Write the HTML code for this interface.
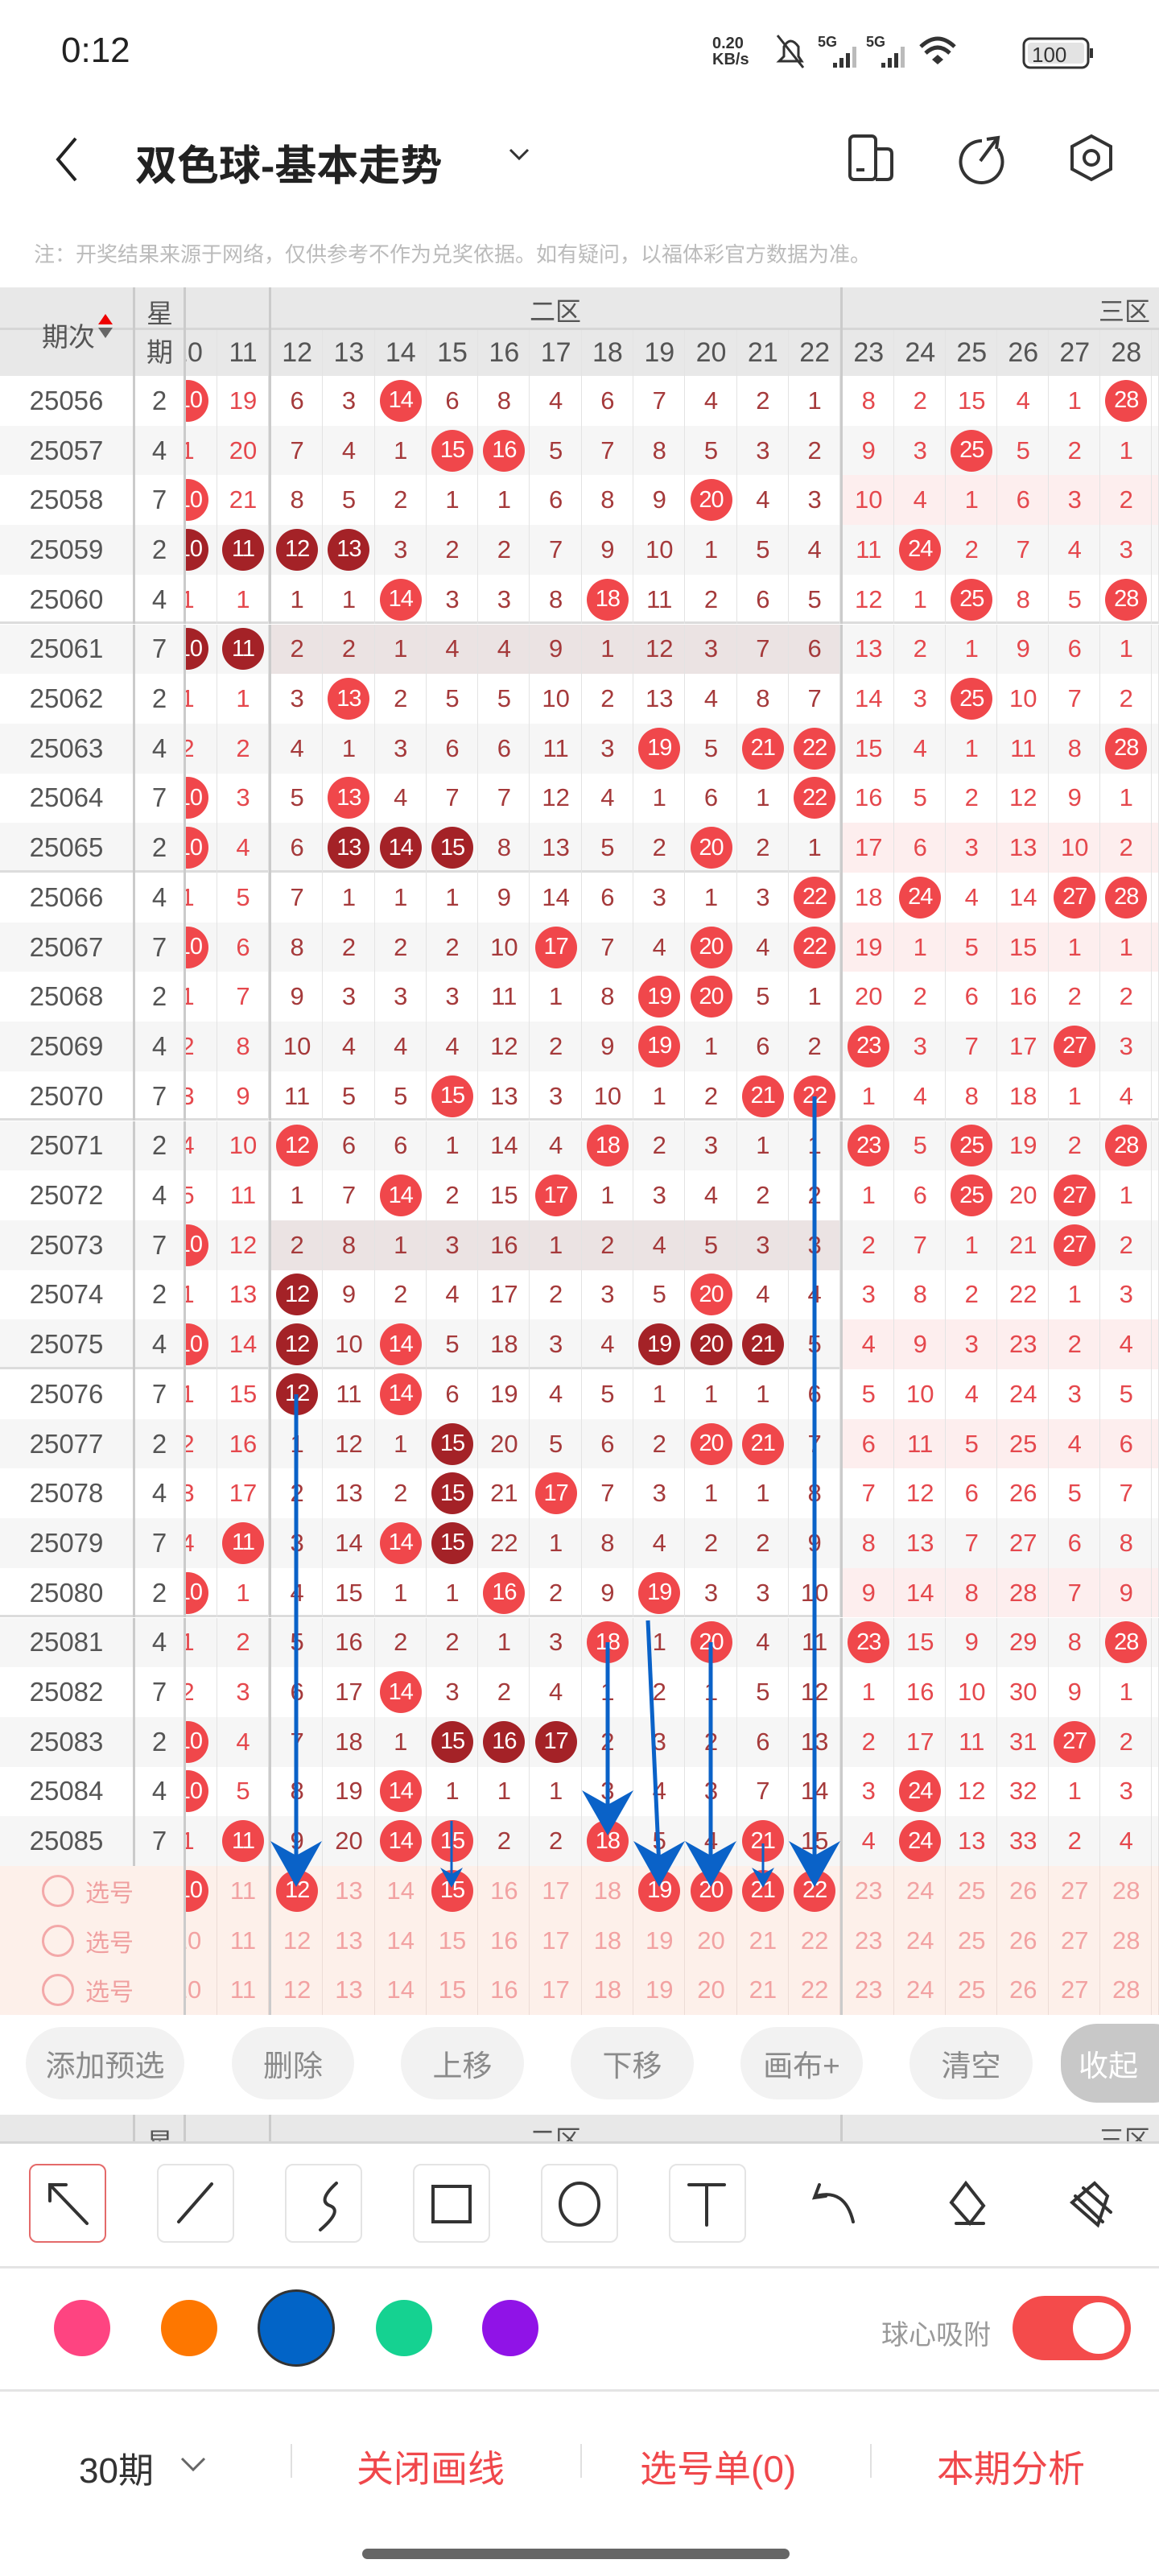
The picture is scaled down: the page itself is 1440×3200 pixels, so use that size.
<!DOCTYPE html>
<html><head><meta charset="utf-8"><style>
*{margin:0;padding:0;box-sizing:border-box}
body{width:1440px;height:3200px;background:#fff;font-family:"Liberation Sans","Noto Sans CJK SC",sans-serif;position:relative;overflow:hidden;color:#333}
.abs{position:absolute}
.r{position:absolute;left:0;width:1440px;height:61.7px;display:grid;grid-template-columns:165px 3px 60px 3px 39px 64px 3px repeat(11,64.3px) 3px repeat(6,64px) 1fr;font-size:31px;align-items:stretch}
.r>*{display:flex;align-items:center;justify-content:center;font-style:normal;text-decoration:none;overflow:hidden;white-space:nowrap}
.r>i{box-shadow:inset -1px 0 #e3e3e3}
.r>s{background:#cbcbcb}
.r>u{color:#555;font-size:33px}
.a{background:#fff}.b{background:#f6f6f6}
.r>i{color:#a53a3b}
.r>:nth-child(5),.r>:nth-child(6),.r>:nth-child(n+20){color:#e5484d}
.k>:nth-child(n+20){background:#fdeeee}
.g>:nth-child(n+8):nth-child(-n+18){background:#ebe3e3}
.e{box-shadow:inset 0 -3px #dcdcdc}
.r>i.p{justify-content:flex-start}
.p em{font-style:normal;display:flex;justify-content:center;align-items:center;min-width:64px;margin-left:-30px}
.p b{justify-content:flex-end;padding-right:8px}
b{display:inline-flex;width:52px;height:52px;border-radius:50%;background:#f0474b;color:#fff;font-weight:normal;align-items:center;justify-content:center;font-size:29px;letter-spacing:-1px}
b.d{background:#a42227}
.sel{background:#fdf0ea}
.sel>i{color:#f2a2a2 !important;box-shadow:inset -1px 0 #ecdcd6;background:#fdf0ea}
.sel>u.lab{grid-column:span 3;justify-content:flex-start;padding-left:52px;color:#f0a0a0;font-size:30px}
.circ{display:inline-block;width:40px;height:40px;border:3px solid #f3a8a8;border-radius:50%;margin-right:14px}
.pill{position:absolute;top:2518px;height:90px;border-radius:45px;background:#f2f2f2;color:#8a8a8a;font-size:37px;display:flex;align-items:center;justify-content:center}
.tb{position:absolute;top:2688px;width:96px;height:98px;border:2px solid #e4e4e4;border-radius:10px}
</style></head><body>

<div class="abs" style="left:76px;top:38px;font-size:44px;color:#222">0:12</div>
<div class="abs" style="left:885px;top:44px;font-size:20px;line-height:20px;font-weight:bold;color:#333">0.20<br>KB/s</div>
<svg class="abs" style="left:960px;top:36px" width="400" height="60" viewBox="0 0 400 60">
<path d="M8 40 L14 34 L14 22 Q22 8 32 22 L32 34 L36 40 Z" fill="none" stroke="#333" stroke-width="3"/><line x1="6" y1="8" x2="38" y2="48" stroke="#333" stroke-width="3"/>
<text x="56" y="22" font-size="18" font-weight="bold" fill="#333" font-family="Liberation Sans">5G</text>
<rect x="75" y="42" width="5" height="6" fill="#333"/><rect x="83" y="36" width="5" height="12" fill="#333"/><rect x="91" y="30" width="5" height="18" fill="#333"/><rect x="99" y="22" width="5" height="26" fill="#bbb"/>
<text x="116" y="22" font-size="18" font-weight="bold" fill="#333" font-family="Liberation Sans">5G</text>
<rect x="135" y="42" width="5" height="6" fill="#333"/><rect x="143" y="36" width="5" height="12" fill="#333"/><rect x="151" y="30" width="5" height="18" fill="#333"/><rect x="159" y="22" width="5" height="26" fill="#bbb"/>
<path d="M184 22 Q205 2 226 22" fill="none" stroke="#333" stroke-width="5"/><path d="M190 30 Q205 16 220 30" fill="none" stroke="#333" stroke-width="5"/><path d="M198 38 L205 32 L212 38 L205 44 Z" fill="#333"/>
<rect x="312" y="12" width="80" height="36" rx="8" fill="none" stroke="#333" stroke-width="3"/><rect x="317" y="17" width="70" height="26" rx="4" fill="#e3e3e3"/>
<text x="322" y="41" font-size="26" fill="#333" font-family="Liberation Sans">100</text><rect x="394" y="24" width="4" height="12" fill="#333"/>
</svg>

<svg class="abs" style="left:64px;top:168px" width="40" height="60"><polyline points="30,4 8,30 30,56" fill="none" stroke="#222" stroke-width="4"/></svg>
<div class="abs" style="left:168px;top:164px;font-size:52px;font-weight:bold;color:#222">双色球-基本走势</div>
<svg class="abs" style="left:630px;top:182px" width="30" height="20"><polyline points="4,4 15,15 26,4" fill="none" stroke="#333" stroke-width="3"/></svg>
<svg class="abs" style="left:1050px;top:165px" width="340" height="64">
<rect x="6" y="4" width="32" height="54" rx="5" fill="none" stroke="#333" stroke-width="4"/><path d="M38 20 H52 Q58 20 58 26 V52 Q58 58 52 58 H38" fill="none" stroke="#333" stroke-width="4"/><line x1="14" y1="46" x2="24" y2="46" stroke="#333" stroke-width="4"/>
<path d="M170 10 A26 26 0 1 0 190 20" fill="none" stroke="#333" stroke-width="4"/><line x1="168" y1="35" x2="188" y2="8" stroke="#333" stroke-width="4"/><polyline points="176,8 190,6 188,20" fill="none" stroke="#333" stroke-width="4"/>
<polygon points="306,4 330,17 330,45 306,58 282,45 282,17" fill="none" stroke="#333" stroke-width="4"/><circle cx="306" cy="31" r="9" fill="none" stroke="#333" stroke-width="4"/>
</svg>
<div class="abs" style="left:42px;top:296px;font-size:26px;color:#bbb">注：开奖结果来源于网络，仅供参考不作为兑奖依据。如有疑问，以福体彩官方数据为准。</div>

<div class="abs" style="left:0;top:357px;width:1440px;height:110px;background:#e8e8e8"></div>
<div class="abs" style="left:0;top:357px;width:1440px;height:53px;box-shadow:inset 0 -3px #d6d6d6"></div>
<div class="abs" style="left:52px;top:392px;font-size:33px;color:#555">期次</div>
<div class="abs" style="left:122px;top:390px;width:0;height:0;border-left:9px solid transparent;border-right:9px solid transparent;border-bottom:13px solid #e00"></div>
<div class="abs" style="left:122px;top:407px;width:0;height:0;border-left:9px solid transparent;border-right:9px solid transparent;border-top:13px solid #666"></div>
<div class="abs" style="left:165px;top:357px;width:3px;height:110px;background:#cbcbcb"></div>
<div class="abs" style="left:182px;top:366px;font-size:33px;color:#555;line-height:48px">星<br>期</div>
<div class="abs" style="left:228px;top:357px;width:3px;height:110px;background:#cbcbcb"></div>
<div class="abs" style="left:334px;top:357px;width:3px;height:110px;background:#cbcbcb"></div>
<div class="abs" style="left:1044px;top:357px;width:3px;height:110px;background:#cbcbcb"></div>
<div class="abs" style="left:658px;top:362px;font-size:32px;color:#555">二区</div>
<div class="abs" style="left:1365px;top:362px;font-size:32px;color:#555">三区</div>
<div class="r" style="top:410px;height:57px;background:transparent;font-size:34px">
<u></u><u></u><u></u><u></u><i class="p" style="color:#555"><em>10</em></i><i style="color:#555">11</i><s></s>
<i style="color:#555">12</i><i style="color:#555">13</i><i style="color:#555">14</i><i style="color:#555">15</i><i style="color:#555">16</i><i style="color:#555">17</i><i style="color:#555">18</i><i style="color:#555">19</i><i style="color:#555">20</i><i style="color:#555">21</i><i style="color:#555">22</i><s></s>
<i style="color:#555">23</i><i style="color:#555">24</i><i style="color:#555">25</i><i style="color:#555">26</i><i style="color:#555">27</i><i style="color:#555">28</i><i></i></div>

<div class="r a" style="top:467px"><u>25056</u><s></s><u>2</u><s></s><i class="p"><em><b>10</b></em></i><i>19</i><s></s><i>6</i><i>3</i><i><b>14</b></i><i>6</i><i>8</i><i>4</i><i>6</i><i>7</i><i>4</i><i>2</i><i>1</i><s></s><i>8</i><i>2</i><i>15</i><i>4</i><i>1</i><i><b>28</b></i><i></i></div>
<div class="r b" style="top:528.7px"><u>25057</u><s></s><u>4</u><s></s><i class="p"><em>1</em></i><i>20</i><s></s><i>7</i><i>4</i><i>1</i><i><b>15</b></i><i><b>16</b></i><i>5</i><i>7</i><i>8</i><i>5</i><i>3</i><i>2</i><s></s><i>9</i><i>3</i><i><b>25</b></i><i>5</i><i>2</i><i>1</i><i></i></div>
<div class="r a k" style="top:590.4px"><u>25058</u><s></s><u>7</u><s></s><i class="p"><em><b>10</b></em></i><i>21</i><s></s><i>8</i><i>5</i><i>2</i><i>1</i><i>1</i><i>6</i><i>8</i><i>9</i><i><b>20</b></i><i>4</i><i>3</i><s></s><i>10</i><i>4</i><i>1</i><i>6</i><i>3</i><i>2</i><i></i></div>
<div class="r b" style="top:652.1px"><u>25059</u><s></s><u>2</u><s></s><i class="p"><em><b class="d">10</b></em></i><i><b class="d">11</b></i><s></s><i><b class="d">12</b></i><i><b class="d">13</b></i><i>3</i><i>2</i><i>2</i><i>7</i><i>9</i><i>10</i><i>1</i><i>5</i><i>4</i><s></s><i>11</i><i><b>24</b></i><i>2</i><i>7</i><i>4</i><i>3</i><i></i></div>
<div class="r a e" style="top:713.8px"><u>25060</u><s></s><u>4</u><s></s><i class="p"><em>1</em></i><i>1</i><s></s><i>1</i><i>1</i><i><b>14</b></i><i>3</i><i>3</i><i>8</i><i><b>18</b></i><i>11</i><i>2</i><i>6</i><i>5</i><s></s><i>12</i><i>1</i><i><b>25</b></i><i>8</i><i>5</i><i><b>28</b></i><i></i></div>
<div class="r b g" style="top:775.5px"><u>25061</u><s></s><u>7</u><s></s><i class="p"><em><b class="d">10</b></em></i><i><b class="d">11</b></i><s></s><i>2</i><i>2</i><i>1</i><i>4</i><i>4</i><i>9</i><i>1</i><i>12</i><i>3</i><i>7</i><i>6</i><s></s><i>13</i><i>2</i><i>1</i><i>9</i><i>6</i><i>1</i><i></i></div>
<div class="r a" style="top:837.2px"><u>25062</u><s></s><u>2</u><s></s><i class="p"><em>1</em></i><i>1</i><s></s><i>3</i><i><b>13</b></i><i>2</i><i>5</i><i>5</i><i>10</i><i>2</i><i>13</i><i>4</i><i>8</i><i>7</i><s></s><i>14</i><i>3</i><i><b>25</b></i><i>10</i><i>7</i><i>2</i><i></i></div>
<div class="r b" style="top:898.9px"><u>25063</u><s></s><u>4</u><s></s><i class="p"><em>2</em></i><i>2</i><s></s><i>4</i><i>1</i><i>3</i><i>6</i><i>6</i><i>11</i><i>3</i><i><b>19</b></i><i>5</i><i><b>21</b></i><i><b>22</b></i><s></s><i>15</i><i>4</i><i>1</i><i>11</i><i>8</i><i><b>28</b></i><i></i></div>
<div class="r a" style="top:960.6px"><u>25064</u><s></s><u>7</u><s></s><i class="p"><em><b>10</b></em></i><i>3</i><s></s><i>5</i><i><b>13</b></i><i>4</i><i>7</i><i>7</i><i>12</i><i>4</i><i>1</i><i>6</i><i>1</i><i><b>22</b></i><s></s><i>16</i><i>5</i><i>2</i><i>12</i><i>9</i><i>1</i><i></i></div>
<div class="r b k e" style="top:1022.3px"><u>25065</u><s></s><u>2</u><s></s><i class="p"><em><b>10</b></em></i><i>4</i><s></s><i>6</i><i><b class="d">13</b></i><i><b class="d">14</b></i><i><b class="d">15</b></i><i>8</i><i>13</i><i>5</i><i>2</i><i><b>20</b></i><i>2</i><i>1</i><s></s><i>17</i><i>6</i><i>3</i><i>13</i><i>10</i><i>2</i><i></i></div>
<div class="r a" style="top:1084px"><u>25066</u><s></s><u>4</u><s></s><i class="p"><em>1</em></i><i>5</i><s></s><i>7</i><i>1</i><i>1</i><i>1</i><i>9</i><i>14</i><i>6</i><i>3</i><i>1</i><i>3</i><i><b>22</b></i><s></s><i>18</i><i><b>24</b></i><i>4</i><i>14</i><i><b>27</b></i><i><b>28</b></i><i></i></div>
<div class="r b k" style="top:1145.7px"><u>25067</u><s></s><u>7</u><s></s><i class="p"><em><b>10</b></em></i><i>6</i><s></s><i>8</i><i>2</i><i>2</i><i>2</i><i>10</i><i><b>17</b></i><i>7</i><i>4</i><i><b>20</b></i><i>4</i><i><b>22</b></i><s></s><i>19</i><i>1</i><i>5</i><i>15</i><i>1</i><i>1</i><i></i></div>
<div class="r a" style="top:1207.4px"><u>25068</u><s></s><u>2</u><s></s><i class="p"><em>1</em></i><i>7</i><s></s><i>9</i><i>3</i><i>3</i><i>3</i><i>11</i><i>1</i><i>8</i><i><b>19</b></i><i><b>20</b></i><i>5</i><i>1</i><s></s><i>20</i><i>2</i><i>6</i><i>16</i><i>2</i><i>2</i><i></i></div>
<div class="r b" style="top:1269.1px"><u>25069</u><s></s><u>4</u><s></s><i class="p"><em>2</em></i><i>8</i><s></s><i>10</i><i>4</i><i>4</i><i>4</i><i>12</i><i>2</i><i>9</i><i><b>19</b></i><i>1</i><i>6</i><i>2</i><s></s><i><b>23</b></i><i>3</i><i>7</i><i>17</i><i><b>27</b></i><i>3</i><i></i></div>
<div class="r a e" style="top:1330.8px"><u>25070</u><s></s><u>7</u><s></s><i class="p"><em>3</em></i><i>9</i><s></s><i>11</i><i>5</i><i>5</i><i><b>15</b></i><i>13</i><i>3</i><i>10</i><i>1</i><i>2</i><i><b>21</b></i><i><b>22</b></i><s></s><i>1</i><i>4</i><i>8</i><i>18</i><i>1</i><i>4</i><i></i></div>
<div class="r b" style="top:1392.5px"><u>25071</u><s></s><u>2</u><s></s><i class="p"><em>4</em></i><i>10</i><s></s><i><b>12</b></i><i>6</i><i>6</i><i>1</i><i>14</i><i>4</i><i><b>18</b></i><i>2</i><i>3</i><i>1</i><i>1</i><s></s><i><b>23</b></i><i>5</i><i><b>25</b></i><i>19</i><i>2</i><i><b>28</b></i><i></i></div>
<div class="r a" style="top:1454.2px"><u>25072</u><s></s><u>4</u><s></s><i class="p"><em>5</em></i><i>11</i><s></s><i>1</i><i>7</i><i><b>14</b></i><i>2</i><i>15</i><i><b>17</b></i><i>1</i><i>3</i><i>4</i><i>2</i><i>2</i><s></s><i>1</i><i>6</i><i><b>25</b></i><i>20</i><i><b>27</b></i><i>1</i><i></i></div>
<div class="r b g" style="top:1515.9px"><u>25073</u><s></s><u>7</u><s></s><i class="p"><em><b>10</b></em></i><i>12</i><s></s><i>2</i><i>8</i><i>1</i><i>3</i><i>16</i><i>1</i><i>2</i><i>4</i><i>5</i><i>3</i><i>3</i><s></s><i>2</i><i>7</i><i>1</i><i>21</i><i><b>27</b></i><i>2</i><i></i></div>
<div class="r a" style="top:1577.6px"><u>25074</u><s></s><u>2</u><s></s><i class="p"><em>1</em></i><i>13</i><s></s><i><b class="d">12</b></i><i>9</i><i>2</i><i>4</i><i>17</i><i>2</i><i>3</i><i>5</i><i><b>20</b></i><i>4</i><i>4</i><s></s><i>3</i><i>8</i><i>2</i><i>22</i><i>1</i><i>3</i><i></i></div>
<div class="r b k e" style="top:1639.3px"><u>25075</u><s></s><u>4</u><s></s><i class="p"><em><b>10</b></em></i><i>14</i><s></s><i><b class="d">12</b></i><i>10</i><i><b>14</b></i><i>5</i><i>18</i><i>3</i><i>4</i><i><b class="d">19</b></i><i><b class="d">20</b></i><i><b class="d">21</b></i><i>5</i><s></s><i>4</i><i>9</i><i>3</i><i>23</i><i>2</i><i>4</i><i></i></div>
<div class="r a" style="top:1701px"><u>25076</u><s></s><u>7</u><s></s><i class="p"><em>1</em></i><i>15</i><s></s><i><b class="d">12</b></i><i>11</i><i><b>14</b></i><i>6</i><i>19</i><i>4</i><i>5</i><i>1</i><i>1</i><i>1</i><i>6</i><s></s><i>5</i><i>10</i><i>4</i><i>24</i><i>3</i><i>5</i><i></i></div>
<div class="r b k" style="top:1762.7px"><u>25077</u><s></s><u>2</u><s></s><i class="p"><em>2</em></i><i>16</i><s></s><i>1</i><i>12</i><i>1</i><i><b class="d">15</b></i><i>20</i><i>5</i><i>6</i><i>2</i><i><b>20</b></i><i><b>21</b></i><i>7</i><s></s><i>6</i><i>11</i><i>5</i><i>25</i><i>4</i><i>6</i><i></i></div>
<div class="r a" style="top:1824.4px"><u>25078</u><s></s><u>4</u><s></s><i class="p"><em>3</em></i><i>17</i><s></s><i>2</i><i>13</i><i>2</i><i><b class="d">15</b></i><i>21</i><i><b>17</b></i><i>7</i><i>3</i><i>1</i><i>1</i><i>8</i><s></s><i>7</i><i>12</i><i>6</i><i>26</i><i>5</i><i>7</i><i></i></div>
<div class="r b" style="top:1886.1px"><u>25079</u><s></s><u>7</u><s></s><i class="p"><em>4</em></i><i><b>11</b></i><s></s><i>3</i><i>14</i><i><b>14</b></i><i><b class="d">15</b></i><i>22</i><i>1</i><i>8</i><i>4</i><i>2</i><i>2</i><i>9</i><s></s><i>8</i><i>13</i><i>7</i><i>27</i><i>6</i><i>8</i><i></i></div>
<div class="r a k e" style="top:1947.8px"><u>25080</u><s></s><u>2</u><s></s><i class="p"><em><b>10</b></em></i><i>1</i><s></s><i>4</i><i>15</i><i>1</i><i>1</i><i><b>16</b></i><i>2</i><i>9</i><i><b>19</b></i><i>3</i><i>3</i><i>10</i><s></s><i>9</i><i>14</i><i>8</i><i>28</i><i>7</i><i>9</i><i></i></div>
<div class="r b" style="top:2009.5px"><u>25081</u><s></s><u>4</u><s></s><i class="p"><em>1</em></i><i>2</i><s></s><i>5</i><i>16</i><i>2</i><i>2</i><i>1</i><i>3</i><i><b>18</b></i><i>1</i><i><b>20</b></i><i>4</i><i>11</i><s></s><i><b>23</b></i><i>15</i><i>9</i><i>29</i><i>8</i><i><b>28</b></i><i></i></div>
<div class="r a" style="top:2071.2px"><u>25082</u><s></s><u>7</u><s></s><i class="p"><em>2</em></i><i>3</i><s></s><i>6</i><i>17</i><i><b>14</b></i><i>3</i><i>2</i><i>4</i><i>1</i><i>2</i><i>1</i><i>5</i><i>12</i><s></s><i>1</i><i>16</i><i>10</i><i>30</i><i>9</i><i>1</i><i></i></div>
<div class="r b" style="top:2132.9px"><u>25083</u><s></s><u>2</u><s></s><i class="p"><em><b>10</b></em></i><i>4</i><s></s><i>7</i><i>18</i><i>1</i><i><b class="d">15</b></i><i><b class="d">16</b></i><i><b class="d">17</b></i><i>2</i><i>3</i><i>2</i><i>6</i><i>13</i><s></s><i>2</i><i>17</i><i>11</i><i>31</i><i><b>27</b></i><i>2</i><i></i></div>
<div class="r a" style="top:2194.6px"><u>25084</u><s></s><u>4</u><s></s><i class="p"><em><b>10</b></em></i><i>5</i><s></s><i>8</i><i>19</i><i><b>14</b></i><i>1</i><i>1</i><i>1</i><i>3</i><i>4</i><i>3</i><i>7</i><i>14</i><s></s><i>3</i><i><b>24</b></i><i>12</i><i>32</i><i>1</i><i>3</i><i></i></div>
<div class="r b" style="top:2256.3px"><u>25085</u><s></s><u>7</u><s></s><i class="p"><em>1</em></i><i><b>11</b></i><s></s><i>9</i><i>20</i><i><b>14</b></i><i><b>15</b></i><i>2</i><i>2</i><i><b>18</b></i><i>5</i><i>4</i><i><b>21</b></i><i>15</i><s></s><i>4</i><i><b>24</b></i><i>13</i><i>33</i><i>2</i><i>4</i><i></i></div>

<div class="r sel" style="top:2318px"><u class="lab"><span class="circ"></span>选号</u><s></s><i class="p"><em><b>10</b></em></i><i>11</i><s></s><i><b>12</b></i><i>13</i><i>14</i><i><b>15</b></i><i>16</i><i>17</i><i>18</i><i><b>19</b></i><i><b>20</b></i><i><b>21</b></i><i><b>22</b></i><s></s><i>23</i><i>24</i><i>25</i><i>26</i><i>27</i><i>28</i><i></i></div>
<div class="r sel" style="top:2379.7px"><u class="lab"><span class="circ"></span>选号</u><s></s><i class="p"><em>10</em></i><i>11</i><s></s><i>12</i><i>13</i><i>14</i><i>15</i><i>16</i><i>17</i><i>18</i><i>19</i><i>20</i><i>21</i><i>22</i><s></s><i>23</i><i>24</i><i>25</i><i>26</i><i>27</i><i>28</i><i></i></div>
<div class="r sel" style="top:2441.4px"><u class="lab"><span class="circ"></span>选号</u><s></s><i class="p"><em>10</em></i><i>11</i><s></s><i>12</i><i>13</i><i>14</i><i>15</i><i>16</i><i>17</i><i>18</i><i>19</i><i>20</i><i>21</i><i>22</i><s></s><i>23</i><i>24</i><i>25</i><i>26</i><i>27</i><i>28</i><i></i></div>

<svg class="abs" style="left:0;top:0" width="1440" height="2600">
<g stroke="#0a62c8" stroke-width="5" fill="#0a62c8">
<line x1="368" y1="1732" x2="368" y2="2320"/><polygon points="368,2344 336,2287 368,2305 400,2287" stroke="none"/>
<line x1="1012" y1="1362" x2="1012" y2="2320"/><polygon points="1012,2344 980,2287 1012,2305 1044,2287" stroke="none"/>
<line x1="755" y1="2040" x2="755" y2="2255"/><polygon points="755,2280 723,2224 755,2242 787,2224" stroke="none"/>
<line x1="805" y1="2013" x2="819" y2="2320"/><polygon points="819,2344 787,2287 819,2305 851,2287" stroke="none"/>
<line x1="883" y1="2040" x2="883" y2="2320"/><polygon points="883,2344 851,2287 883,2305 915,2287" stroke="none"/>
<line x1="561" y1="2262" x2="561" y2="2335" stroke-width="3"/><polygon points="561,2345 547,2320 561,2328 575,2320" stroke="none"/>
<line x1="948" y1="2290" x2="948" y2="2335" stroke-width="3"/><polygon points="948,2345 934,2320 948,2328 962,2320" stroke="none"/>
</g></svg>

<div class="pill" style="left:32px;width:197px">添加预选</div>
<div class="pill" style="left:288px;width:152px">删除</div>
<div class="pill" style="left:498px;width:153px">上移</div>
<div class="pill" style="left:709px;width:153px">下移</div>
<div class="pill" style="left:920px;width:152px">画布+</div>
<div class="pill" style="left:1130px;width:153px">清空</div>
<div class="pill" style="left:1318px;width:160px;background:#c8c8c8;color:#fff;justify-content:flex-start;padding-left:22px;top:2514px;height:98px">收起</div>

<div class="abs" style="left:0;top:2627px;width:1440px;height:36px;background:#e8e8e8;overflow:hidden;border-bottom:3px solid #d6d6d6">
<div class="abs" style="left:165px;top:0;width:3px;height:36px;background:#cbcbcb"></div>
<div class="abs" style="left:228px;top:0;width:3px;height:36px;background:#cbcbcb"></div>
<div class="abs" style="left:334px;top:0;width:3px;height:36px;background:#cbcbcb"></div>
<div class="abs" style="left:1044px;top:0;width:3px;height:36px;background:#cbcbcb"></div>
<div class="abs" style="left:182px;top:8px;font-size:33px;color:#555">星</div>
<div class="abs" style="left:658px;top:6px;font-size:32px;color:#555">二区</div>
<div class="abs" style="left:1365px;top:6px;font-size:32px;color:#555">三区</div>
</div>

<div class="tb" style="left:36px;border-color:#e46a6a"></div>
<div class="tb" style="left:195px"></div>
<div class="tb" style="left:354px"></div>
<div class="tb" style="left:513px"></div>
<div class="tb" style="left:672px"></div>
<div class="tb" style="left:831px"></div>
<svg class="abs" style="left:0;top:2700px" width="1440" height="80">
<g fill="none" stroke="#333" stroke-width="4" stroke-linecap="round">
<polyline points="62,34 62,14 82,14"/><line x1="62" y1="14" x2="108" y2="62"/>
<line x1="263" y1="13" x2="222" y2="60"/>
<path d="M418 12 Q394 34 410 40 Q426 46 398 70"/>
<rect x="538" y="16" width="46" height="44"/>
<ellipse cx="720" cy="38" rx="24" ry="26"/>
<line x1="856" y1="14" x2="900" y2="14"/><line x1="878" y1="14" x2="878" y2="64"/>
<path d="M1018 14 L1012 30 L1026 28 M1014 28 Q1050 18 1060 60"/>
<polygon points="1200,12 1222,40 1205,62 1182,36"/><line x1="1188" y1="62" x2="1222" y2="62"/>
<path d="M1346 18 L1380 48 M1336 28 L1370 60 M1360 12 L1376 28 L1364 64 L1332 36 Z"/>
</g></svg>
<div class="abs" style="left:0;top:2815px;width:1440px;height:3px;background:#e4e4e4"></div>

<div class="abs" style="left:67px;top:2857px;width:70px;height:70px;border-radius:50%;background:#fe4481"></div>
<div class="abs" style="left:200px;top:2857px;width:70px;height:70px;border-radius:50%;background:#fe7700"></div>
<div class="abs" style="left:320px;top:2844px;width:96px;height:96px;border-radius:50%;background:#0264c7;border:3px solid #333"></div>
<div class="abs" style="left:467px;top:2857px;width:70px;height:70px;border-radius:50%;background:#15d291"></div>
<div class="abs" style="left:599px;top:2857px;width:70px;height:70px;border-radius:50%;background:#9013e7"></div>
<div class="abs" style="left:1095px;top:2873px;font-size:34px;color:#999">球心吸附</div>
<div class="abs" style="left:1258px;top:2852px;width:147px;height:80px;border-radius:40px;background:#f44b4b"></div>
<div class="abs" style="left:1333px;top:2860px;width:64px;height:64px;border-radius:50%;background:#fff"></div>
<div class="abs" style="left:0;top:2968px;width:1440px;height:3px;background:#e4e4e4"></div>

<div class="abs" style="left:98px;top:3033px;font-size:44px;color:#333">30期</div>
<svg class="abs" style="left:222px;top:3050px" width="40" height="24"><polyline points="4,4 18,18 32,4" fill="none" stroke="#666" stroke-width="3"/></svg>
<div class="abs" style="left:361px;top:3036px;width:2px;height:42px;background:#e0e0e0"></div>
<div class="abs" style="left:721px;top:3036px;width:2px;height:42px;background:#e0e0e0"></div>
<div class="abs" style="left:1081px;top:3036px;width:2px;height:42px;background:#e0e0e0"></div>
<div class="abs" style="left:443px;top:3031px;font-size:46px;color:#f0474b">关闭画线</div>
<div class="abs" style="left:795px;top:3031px;font-size:46px;color:#f0474b">选号单(0)</div>
<div class="abs" style="left:1164px;top:3031px;font-size:46px;color:#f0474b">本期分析</div>
<div class="abs" style="left:450px;top:3166px;width:531px;height:13px;border-radius:7px;background:#666"></div>
</body></html>
